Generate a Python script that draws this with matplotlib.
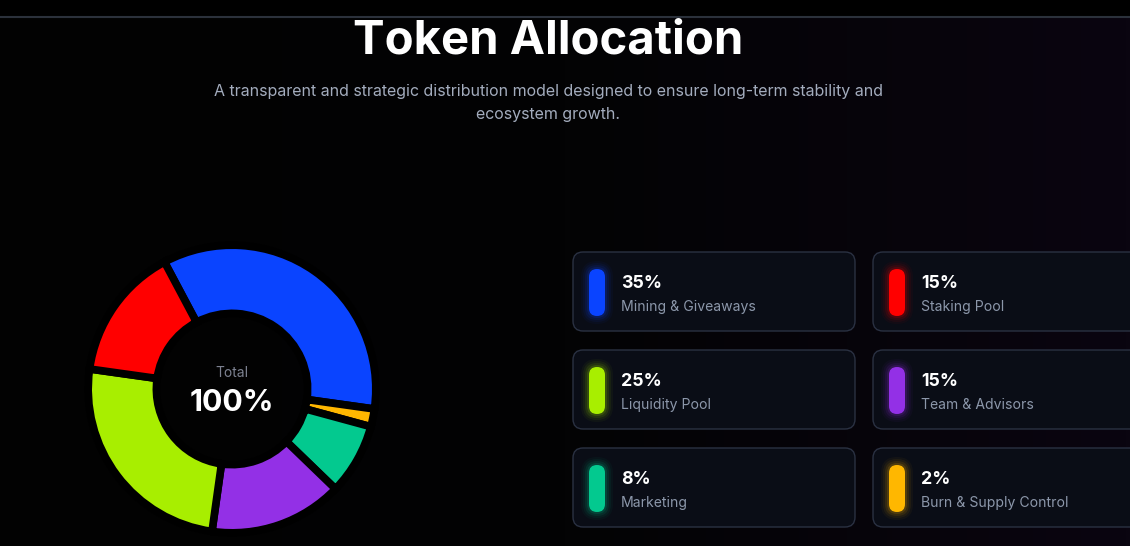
import numpy as np
import matplotlib
matplotlib.use("Agg")
import matplotlib.pyplot as plt
from matplotlib.patches import FancyBboxPatch
from matplotlib.colors import LinearSegmentedColormap

plt.rcParams['font.family'] = ['Inter', 'DejaVu Sans']

# Data
labels = ["Mining & Giveaways", "Burn & Supply Control", "Marketing",
          "Team & Advisors", "Liquidity Pool", "Staking Pool"]
values = [35, 2, 8, 15, 25, 15]
colors = ["#0a44ff", "#ffb700", "#03c98f", "#9330e6", "#a8ee00", "#ff0000"]

# card order (left column, right column) by rows
card_labels = ["Mining & Giveaways", "Staking Pool",
               "Liquidity Pool", "Team & Advisors",
               "Marketing", "Burn & Supply Control"]
card_values = [35, 15, 25, 15, 8, 2]
card_colors = ["#0a44ff", "#ff0000", "#a8ee00", "#9330e6", "#03c98f", "#ffb700"]

W, H = 1130, 546
fig = plt.figure(figsize=(W / 100, H / 100), dpi=100)
fig.patch.set_facecolor("black")

ax = fig.add_axes([0, 0, 1, 1])
ax.set_xlim(0, W)
ax.set_ylim(H, 0)
ax.axis("off")

# background: faint purple tint towards the right
cmap = LinearSegmentedColormap.from_list("bg", ["#020202", "#030304", "#0a0510"])
grad = np.tile(np.linspace(0, 1, 256), (2, 1))
ax.imshow(grad, cmap=cmap, extent=[0, W, H, 17], aspect="auto", zorder=0)
ax.plot([0, W], [17, 17], color="#2b313b", lw=1.5, zorder=1)

# header
ax.text(548, 53, "Token Allocation", color="white", fontsize=34, fontweight="bold",
        ha="center", va="baseline", zorder=3)
ax.text(548, 96, "A transparent and strategic distribution model designed to ensure long-term stability and",
        color="#a3acbd", fontsize=11.5, ha="center", va="baseline", zorder=3)
ax.text(548, 119, "ecosystem growth.", color="#a3acbd", fontsize=11.5,
        ha="center", va="baseline", zorder=3)

# cards
col_x = [573, 873]
row_y = [252, 350, 448]
card_w, card_h = 282, 79
for i, (lab, val, col) in enumerate(zip(card_labels, card_values, card_colors)):
    x0 = col_x[i % 2]
    y0 = row_y[i // 2]
    card = FancyBboxPatch((x0, y0), card_w, card_h,
                          boxstyle="round,pad=0,rounding_size=10",
                          facecolor="#0a0d16", edgecolor="#2a3142", lw=1.0, zorder=2)
    ax.add_patch(card)
    px, py = x0 + 16, y0 + 17
    # soft glow around the pill
    for k, a in [(8, 0.04), (6, 0.06), (4, 0.09), (2, 0.14)]:
        ax.add_patch(FancyBboxPatch((px, py), 16, 47,
                                    boxstyle=f"round,pad={k},rounding_size={8 + k}",
                                    facecolor=col, edgecolor="none", alpha=a, zorder=3))
    ax.add_patch(FancyBboxPatch((px, py), 16, 47,
                                boxstyle="round,pad=0,rounding_size=8",
                                facecolor=col, edgecolor="none", zorder=4))
    ax.text(x0 + 48, y0 + 36, f"{val}%", color="white", fontsize=12.8, fontweight="bold",
            ha="left", va="baseline", zorder=5)
    ax.text(x0 + 48, y0 + 59, lab, color="#8c97aa", fontsize=10.1,
            ha="left", va="baseline", zorder=5)

# donut
cx, cy, half = 232, 389, 152
pax = fig.add_axes([(cx - half) / W, (H - cy - half) / H, 2 * half / W, 2 * half / H])
pax.set_facecolor("none")
r_px = 143.8
pax.pie(values, colors=colors, startangle=118, counterclock=False, radius=1,
        wedgeprops=dict(width=0.474, edgecolor="black", linewidth=5.5))
lim = half / r_px
pax.set_xlim(-lim, lim)
pax.set_ylim(-lim, lim)
pax.set_aspect("equal")
pax.axis("off")

ax.text(cx, 377, "Total", color="#7c8190", fontsize=10, ha="center", va="baseline", zorder=5)
ax.text(cx, 411, "100%", color="white", fontsize=21.8, fontweight="bold",
        ha="center", va="baseline", zorder=5)

fig.savefig("out.png", dpi=100, facecolor=fig.get_facecolor())
